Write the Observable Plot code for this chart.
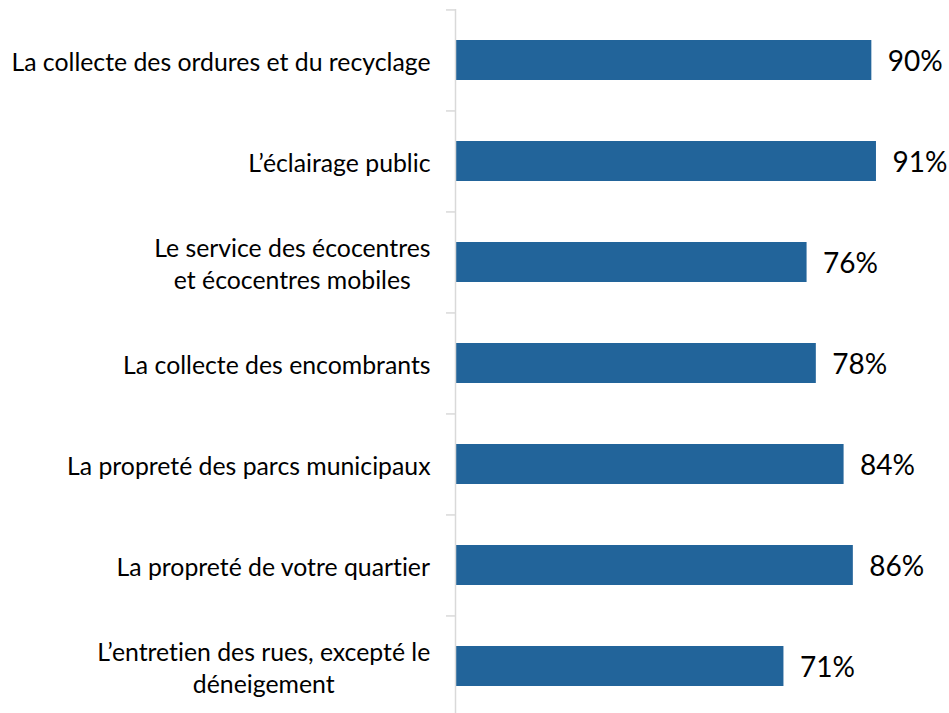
<!DOCTYPE html>
<html><head><meta charset="utf-8">
<script src="https://cdn.jsdelivr.net/npm/d3@7"></script>
<script src="https://cdn.jsdelivr.net/npm/@observablehq/plot@0.6"></script>
<style>body{margin:0;background:#fff;}#chart svg{overflow:visible;}#chart svg text{font-variant-ligatures:none;font-feature-settings:"liga" 0;}</style>
</head><body><div id="chart"></div>
<script>
const categories = [
  "La collecte des ordures et du recyclage",
  "L’éclairage public",
  "Le service des écocentres\net écocentres mobiles",
  "La collecte des encombrants",
  "La propreté des parcs municipaux",
  "La propreté de votre quartier",
  "L’entretien des rues, excepté le\ndéneigement"
];
const values = [90, 91, 76, 78, 84, 86, 71];
const valueLabels = ["90%", "91%", "76%", "78%", "84%", "86%", "71%"];

const data = categories.map((c, i) => ({category: c, value: values[i], label: valueLabels[i]}));

const W = 949, H = 713, mL = 455, mT = 9, mB = -4, mR = 31.4;
const font = "Lato, 'Open Sans', sans-serif";
const labelSize = 24.8;
const ctx = document.createElement("canvas").getContext("2d");
ctx.font = `${labelSize}px Lato`;
const step = (H - mT - mB) / categories.length;

const labelMarks = categories.map(c => {
  const lines = c.split("\n");
  const w = Math.max(...lines.map(l => ctx.measureText(l).width));
  return Plot.text([c], {
    y: d => d, text: d => d, frameAnchor: "left", textAnchor: "middle",
    dx: -(25 + w / 2), fontSize: labelSize, lineHeight: 1.3, fill: "#000"
  });
});

const chart = Plot.plot({
  width: W, height: H,
  marginLeft: mL, marginRight: mR, marginTop: mT, marginBottom: mB,
  style: {fontFamily: font, background: "#fff"},
  x: {domain: [0, 100], axis: null},
  y: {domain: categories, paddingInner: 0.6, paddingOuter: 0.3, axis: null},
  marks: [
    Plot.barX(data, {x: "value", y: "category", fill: "#22649a"}),
    Plot.ruleX([0], {stroke: "#d9d9d9", strokeWidth: 1.5}),
    Plot.axisY({tickSize: 9, text: null, label: null, dy: -step / 2, stroke: "#d9d9d9", strokeWidth: 1.5}),
    ...labelMarks,
    Plot.text(data, {x: "value", y: "category", text: "label", textAnchor: "start", dx: 16, dy: 2, fontSize: 28, fill: "#000"})
  ]
});
document.getElementById("chart").appendChild(chart);
</script>
</body></html>
